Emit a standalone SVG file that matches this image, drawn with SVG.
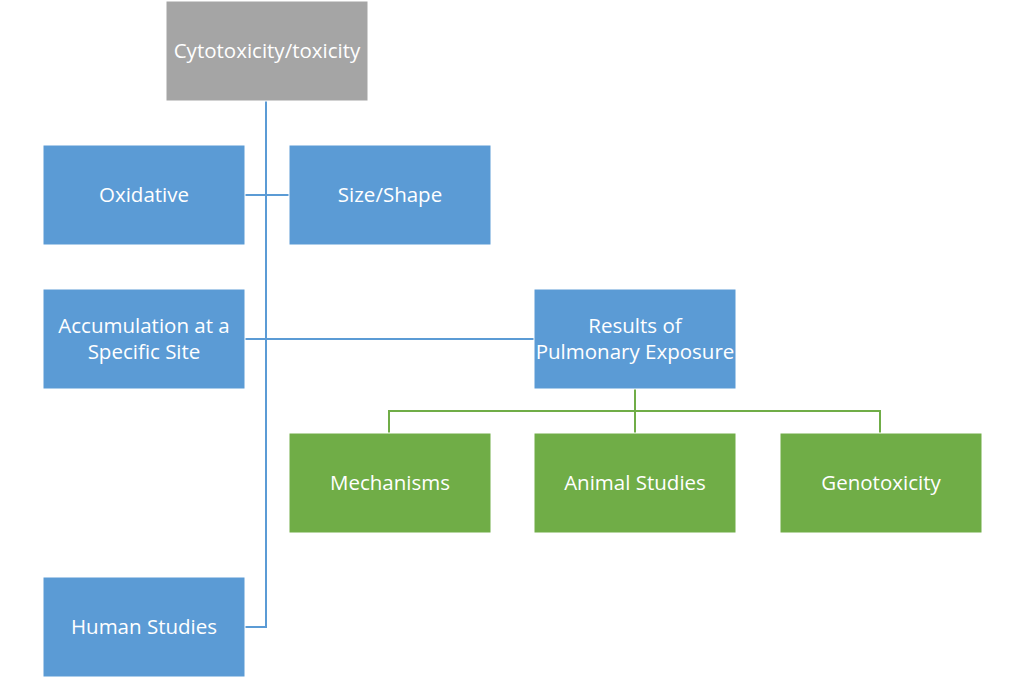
<svg xmlns="http://www.w3.org/2000/svg" width="1024" height="679" viewBox="0 0 1024 679">
<style>
.box{stroke:#ffffff;stroke-width:1}
.blue{fill:#5B9BD5}
.gray{fill:#A5A5A5}
.green{fill:#70AD47}
.t{font-family:"Open Sans","Liberation Sans",sans-serif;font-size:20.5px;fill:#ffffff;text-anchor:middle}
.cb{fill:none;stroke:#5B9BD5;stroke-width:2}
.cg{fill:none;stroke:#70AD47;stroke-width:2}
</style>
<rect width="1024" height="679" fill="#ffffff"/>
<g id="connectors">
<path class="cb" d="M266,101 V627 H245"/>
<path class="cb" d="M245,195 H289"/>
<path class="cb" d="M245,339 H534"/>
<path class="cg" d="M635,389 V433"/>
<path class="cg" d="M389,433 V411 H880 V433"/>
</g>
<g id="cytotoxicity"><rect class="box gray" x="166" y="1" width="202" height="100"/><text class="t" x="267" y="58">Cytotoxicity/toxicity</text></g>
<g id="oxidative"><rect class="box blue" x="43" y="145" width="202" height="100"/><text class="t" x="144" y="202">Oxidative</text></g>
<g id="sizeshape"><rect class="box blue" x="289" y="145" width="202" height="100"/><text class="t" x="390" y="202">Size/Shape</text></g>
<g id="accumulation"><rect class="box blue" x="43" y="289" width="202" height="100"/><text class="t" x="144" y="333">Accumulation at a</text><text class="t" x="144" y="359">Specific Site</text></g>
<g id="results"><rect class="box blue" x="534" y="289" width="202" height="100"/><text class="t" x="635" y="333">Results of</text><text class="t" x="635" y="359">Pulmonary Exposure</text></g>
<g id="mechanisms"><rect class="box green" x="289" y="433" width="202" height="100"/><text class="t" x="390" y="490">Mechanisms</text></g>
<g id="animal"><rect class="box green" x="534" y="433" width="202" height="100"/><text class="t" x="635" y="490">Animal Studies</text></g>
<g id="genotoxicity"><rect class="box green" x="780" y="433" width="202" height="100"/><text class="t" x="881" y="490">Genotoxicity</text></g>
<g id="human"><rect class="box blue" x="43" y="577" width="202" height="100"/><text class="t" x="144" y="634">Human Studies</text></g>
</svg>
